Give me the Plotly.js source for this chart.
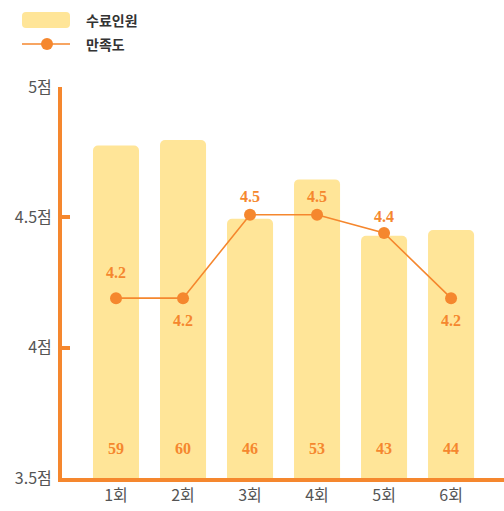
<!DOCTYPE html>
<html>
<head>
<meta charset="utf-8">
<script src="https://cdn.plot.ly/plotly-3.0.1.min.js"></script>
<style>html,body{margin:0;padding:0;background:#fff;}#chart{width:504px;height:511px;}</style>
</head>
<body>
<div id="chart"></div>
<script>
const categories = ['1회','2회','3회','4회','5회','6회'];
const attendees = [59, 60, 46, 53, 43, 44];
const satisfaction = [4.19, 4.19, 4.51, 4.51, 4.44, 4.19];
const yTickVals = [3.5, 4, 4.5, 5];
const yTickText = ['3.5점', '4점', '4.5점', '5점'];
const seriesNames = ['수료인원', '만족도'];

const ORANGE = '#F5872E';
const YELLOW = '#FFE598';
const W = 504, H = 511;
const L = 62, R = 504, T = 87, B = 478;
const px = x => (x - L) / (R - L);
const py = y => (B - y) / (B - T);

const xIdx = categories.map((_, i) => i);

const bars = {
  type: 'bar', x: xIdx, y: attendees, yaxis: 'y', name: seriesNames[0],
  marker: { color: YELLOW, line: { width: 0 } }, hoverinfo: 'skip', showlegend: false
};
const line = {
  type: 'scatter', mode: 'lines+markers', x: xIdx, y: satisfaction, yaxis: 'y2', name: seriesNames[1],
  line: { color: ORANGE, width: 1.6 }, marker: { color: ORANGE, size: 12 }, showlegend: false
};

const labelFont = { family: 'Liberation Serif, DejaVu Serif, serif', size: 16, color: ORANGE, weight: 'bold' };
const labelShift = [26, -22, 18, 18, 16, -22];
const annotations = [];
satisfaction.forEach((v, i) => {
  annotations.push({ x: i, y: v, xref: 'x', yref: 'y2', text: v.toFixed(1), showarrow: false,
    yshift: labelShift[i], font: labelFont });
});
attendees.forEach((v, i) => {
  annotations.push({ x: i, y: 0, xref: 'x', yref: 'y', text: String(v), showarrow: false,
    yshift: 30, font: labelFont });
});
annotations.push({ x: px(84), y: py(20), xref: 'paper', yref: 'paper', xanchor: 'left', yanchor: 'middle',
  text: seriesNames[0], showarrow: false, font: { family: 'Noto Sans CJK KR', size: 14, color: '#333', weight: 'bold' } });
annotations.push({ x: px(84), y: py(44), xref: 'paper', yref: 'paper', xanchor: 'left', yanchor: 'middle',
  text: seriesNames[1], showarrow: false, font: { family: 'Noto Sans CJK KR', size: 14, color: '#333', weight: 'bold' } });

function roundRect(x0, y0, x1, y1, r) {
  const p = (x, y) => px(x) + ',' + py(y);
  return 'M' + p(x0 + r, y0) + ' L' + p(x1 - r, y0) + ' Q' + p(x1, y0) + ' ' + p(x1, y0 + r) +
    ' L' + p(x1, y1 - r) + ' Q' + p(x1, y1) + ' ' + p(x1 - r, y1) + ' L' + p(x0 + r, y1) +
    ' Q' + p(x0, y1) + ' ' + p(x0, y1 - r) + ' L' + p(x0, y0 + r) + ' Q' + p(x0, y0) + ' ' + p(x0 + r, y0) + ' Z';
}
const shapes = [
  { type: 'path', xref: 'paper', yref: 'paper', path: roundRect(22, 12, 70, 28, 4), fillcolor: YELLOW, line: { width: 0 } },
  { type: 'line', xref: 'paper', yref: 'paper', x0: px(22), x1: px(70), y0: py(44), y1: py(44), line: { color: ORANGE, width: 1.6 } },
  { type: 'circle', xref: 'paper', yref: 'paper', x0: px(41), x1: px(53), y0: py(38), y1: py(50), fillcolor: ORANGE, line: { width: 0 } }
];

const layout = {
  width: W, height: H,
  margin: { l: L, r: W - R, t: T, b: H - B, pad: 0 },
  paper_bgcolor: '#fff', plot_bgcolor: '#fff',
  showlegend: false,
  bargap: 0.313,
  barcornerradius: 5,
  font: { family: 'Noto Sans CJK KR, Noto Sans, sans-serif', color: '#555' },
  xaxis: {
    range: [-0.806, 5.79], tickvals: xIdx, ticktext: categories, showgrid: false, zeroline: false,
    showline: true, linecolor: ORANGE, linewidth: 4, ticks: '', ticklen: 0,
    tickfont: { size: 16, color: '#555', family: 'Noto Sans CJK KR' }, fixedrange: true
  },
  yaxis: {
    range: [0, 69.4], visible: false, fixedrange: true
  },
  yaxis2: {
    range: [3.5, 5], overlaying: 'y', side: 'left', anchor: 'x',
    tickvals: yTickVals, ticktext: yTickText, showgrid: false, zeroline: false,
    showline: true, linecolor: ORANGE, linewidth: 4, ticks: 'inside', ticklen: 8, tickwidth: 4, tickcolor: ORANGE,
    tickfont: { size: 16, color: '#555', family: 'Noto Sans CJK KR' }, ticklabelstandoff: 3, fixedrange: true
  },
  annotations: annotations,
  shapes: shapes
};

Plotly.newPlot('chart', [bars, line], layout, { displayModeBar: false, staticPlot: true });
</script>
</body>
</html>
